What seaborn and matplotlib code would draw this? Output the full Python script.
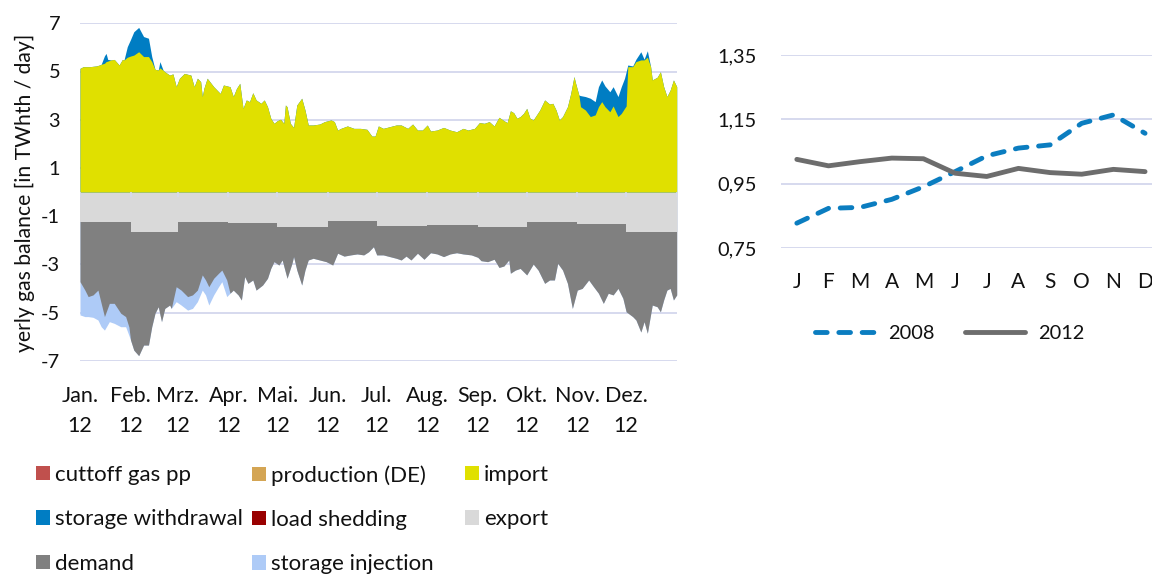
import numpy as np
import pandas as pd
import matplotlib
matplotlib.use("Agg")
import matplotlib.pyplot as plt
import seaborn as sns
from matplotlib.patches import Patch
from matplotlib.lines import Line2D

# ---------------- data ----------------
month_labels = ["Jan.", "Feb.", "Mrz.", "Apr.", "Mai.", "Jun.",
                "Jul.", "Aug.", "Sep.", "Okt.", "Nov.", "Dez."]
year_label = "12"
month_days = [31, 29, 31, 30, 31, 30, 31, 31, 30, 31, 30, 31]
export_monthly = [1.26, 1.65, 1.24, 1.30, 1.44, 1.19, 1.40, 1.37, 1.45, 1.23, 1.31, 1.65]

# supply side (day of year, TWh/day)
supply_days = [0, 2, 6, 10, 12, 13, 15, 16, 17, 19,
               21, 24, 26, 27, 29, 31, 33, 36, 39, 42,
               44, 46, 48, 49, 51, 52, 55, 57, 59, 61,
               64, 68, 70, 72, 74, 75, 76, 78, 82, 84,
               86, 88, 92, 94, 96, 98, 100, 102, 104, 106,
               108, 111, 113, 115, 117, 119, 121, 123, 125, 126,
               127, 129, 131, 133, 136, 138, 140, 143, 147, 150,
               154, 156, 158, 160, 164, 168, 172, 176, 179, 181,
               183, 186, 190, 194, 197, 201, 204, 207, 210, 213,
               215, 219, 223, 227, 231, 235, 238, 242, 245, 248,
               251, 254, 257, 260, 262, 264, 266, 268, 270, 272,
               274, 276, 278, 282, 285, 288, 290, 292, 294, 296,
               299, 301, 303, 304, 306, 307, 310, 313, 316, 318,
               320, 322, 325, 327, 330, 332, 334, 335, 336, 339,
               341, 344, 346, 348, 350, 351, 354, 356, 358, 360,
               362, 364, 366]
import_vals = [5.13, 5.20, 5.20, 5.23, 5.27, 5.30, 5.34, 5.41, 5.43, 5.48,
               5.50, 5.27, 5.50, 5.48, 5.59, 5.64, 5.68, 5.82, 5.62, 5.62,
               5.41, 5.09, 5.06, 5.15, 5.05, 4.99, 4.85, 4.90, 4.37, 4.72,
               4.92, 4.85, 4.37, 4.72, 4.58, 3.96, 4.30, 4.72, 4.37, 4.23,
               4.09, 4.44, 4.37, 3.96, 4.30, 4.51, 3.47, 3.82, 3.75, 4.12,
               3.82, 3.68, 3.82, 3.54, 3.06, 2.85, 2.96, 3.02, 2.85, 3.61,
               3.54, 2.85, 2.68, 3.61, 3.89, 3.40, 2.78, 2.78, 2.82, 2.92,
               2.99, 2.92, 2.57, 2.64, 2.74, 2.64, 2.64, 2.60, 2.32, 2.32,
               2.74, 2.64, 2.71, 2.78, 2.78, 2.64, 2.82, 2.57, 2.57, 2.78,
               2.53, 2.57, 2.68, 2.57, 2.50, 2.64, 2.57, 2.64, 2.88, 2.85,
               2.92, 2.74, 3.10, 2.96, 2.88, 3.37, 3.29, 3.06, 3.13, 3.26,
               3.47, 3.06, 2.99, 3.40, 3.82, 3.65, 3.68, 3.40, 2.99, 3.13,
               3.54, 4.09, 4.79, 4.51, 4.02, 3.54, 3.40, 3.13, 3.20, 3.54,
               3.75, 3.54, 3.33, 3.57, 3.13, 3.26, 3.47, 3.57, 5.20, 5.20,
               5.41, 5.48, 5.48, 5.59, 5.20, 4.65, 4.76, 4.99, 4.37, 3.96,
               4.23, 4.65, 4.37]
withdrawal_vals = [0, 0, 0, 0, 0, 0, 0.31, 0.34, 0.07, 0,
                   0, 0, 0, 0, 0.44, 0.69, 0.97, 1.01, 0.83, 0.76,
                   0.21, 0, 0, 0.26, 0, 0, 0, 0, 0, 0,
                   0, 0, 0, 0, 0, 0, 0, 0, 0, 0,
                   0, 0, 0, 0, 0, 0, 0, 0, 0, 0,
                   0, 0, 0, 0, 0, 0, 0, 0, 0, 0,
                   0, 0, 0, 0, 0, 0, 0, 0, 0, 0,
                   0, 0, 0, 0, 0, 0, 0, 0, 0, 0,
                   0, 0, 0, 0, 0, 0, 0, 0, 0, 0,
                   0, 0, 0, 0, 0, 0, 0, 0, 0, 0,
                   0, 0, 0, 0, 0, 0, 0, 0, 0, 0,
                   0, 0, 0, 0, 0, 0, 0, 0, 0, 0,
                   0, 0, 0, 0, 0, 0.46, 0.56, 0.76, 0.55, 0.83,
                   0.90, 0.86, 0.83, 0.80, 0.83, 1.11, 1.25, 1.42, 0.07, 0.03,
                   0.10, 0.34, 0.03, 0.27, 0, 0, 0, 0, 0, 0,
                   0, 0, 0]

# use side (day of year, TWh/day)
use_days = [0, 3, 5, 8, 11, 13, 15, 18, 21, 25,
            28, 30, 31, 33, 36, 39, 42, 44, 46, 48,
            50, 52, 55, 56, 59, 62, 66, 69, 72, 75,
            77, 79, 82, 85, 87, 90, 92, 94, 97, 99,
            101, 103, 106, 108, 112, 115, 117, 119, 122, 124,
            127, 130, 131, 133, 136, 138, 140, 143, 147, 151,
            155, 158, 162, 166, 170, 174, 177, 180, 182, 186,
            190, 194, 197, 200, 203, 207, 211, 215, 219, 223,
            227, 231, 235, 240, 244, 246, 250, 254, 257, 260,
            263, 264, 267, 270, 274, 278, 281, 285, 288, 291,
            293, 296, 299, 302, 305, 308, 312, 315, 318, 321,
            324, 327, 330, 333, 335, 339, 341, 344, 346, 348,
            351, 354, 356, 358, 360, 362, 364, 366]
demand_vals = [2.46, 2.81, 3.08, 3.01, 2.81, 3.36, 3.91, 3.36, 3.36, 3.77,
               3.91, 4.34, 4.49, 4.91, 5.14, 4.70, 4.70, 3.94, 3.38, 3.11,
               3.73, 3.18, 3.04, 3.18, 2.28, 2.83, 3.10, 3.03, 2.83, 2.20,
               2.41, 2.69, 2.34, 2.13, 2.00, 2.41, 2.90, 2.77, 2.97, 3.18,
               2.21, 2.49, 2.35, 2.77, 2.56, 2.28, 1.87, 1.59, 1.59, 1.38,
               2.14, 1.52, 1.24, 1.80, 2.42, 1.80, 1.38, 1.31, 1.38, 1.45,
               1.84, 1.35, 1.47, 1.42, 1.38, 1.42, 1.29, 1.08, 1.21, 1.21,
               1.28, 1.35, 1.42, 1.26, 1.42, 1.14, 1.39, 1.15, 1.20, 1.31,
               1.20, 1.15, 1.20, 1.24, 1.26, 1.40, 1.44, 1.34, 1.68, 1.62,
               1.37, 1.92, 1.79, 1.72, 2.21, 1.76, 2.01, 2.56, 2.42, 2.42,
               1.73, 2.01, 2.56, 3.60, 2.76, 2.69, 2.34, 2.62, 2.89, 3.31,
               2.89, 2.96, 2.69, 3.10, 3.32, 3.52, 3.66, 4.16, 3.73, 4.21,
               3.04, 3.11, 3.32, 2.83, 2.42, 2.35, 2.83, 2.62]
injection_vals = [1.38, 1.10, 0.83, 0.93, 1.24, 0.97, 0.56, 0.76, 0.83, 0.56,
                  0.42, 0.35, 0, 0, 0, 0, 0, 0, 0, 0,
                  0, 0, 0, 0, 0.62, 0.62, 0.56, 0.56, 0.48, 0.63,
                  0.62, 0.76, 0.69, 0.56, 0.48, 0.69, 0, 0, 0, 0,
                  0, 0, 0, 0, 0, 0, 0, 0, 0, 0,
                  0, 0, 0, 0, 0, 0, 0, 0, 0, 0,
                  0, 0, 0, 0, 0, 0, 0, 0, 0, 0,
                  0, 0, 0, 0, 0, 0, 0, 0, 0, 0,
                  0, 0, 0, 0, 0, 0, 0, 0, 0, 0,
                  0, 0, 0, 0, 0, 0, 0, 0, 0, 0,
                  0, 0, 0, 0, 0, 0, 0, 0, 0, 0,
                  0, 0, 0, 0, 0, 0, 0, 0, 0, 0,
                  0, 0, 0, 0, 0, 0, 0, 0]

legend_names = ["cuttoff gas pp", "production (DE)", "import",
                "storage withdrawal", "load shedding", "export",
                "demand", "storage injection"]

y1_ticks = [7, 5, 3, 1, -1, -3, -5, -7]

# right chart
month_initials = ["J", "F", "M", "A", "M", "J", "J", "A", "S", "O", "N", "D"]
series_2008 = [0.828, 0.874, 0.877, 0.902, 0.941, 0.988, 1.037, 1.061, 1.071, 1.138, 1.164, 1.107]
series_2012 = [1.026, 1.006, 1.019, 1.030, 1.028, 0.983, 0.973, 0.998, 0.985, 0.980, 0.995, 0.988]
y2_ticks = [0.75, 0.95, 1.15, 1.35]
y2_labels = ["0,75", "0,95", "1,15", "1,35"]

# ---------------- style ----------------
C_CUT = "#C0504D"
C_PROD = "#D4A554"
C_IMPORT = "#E0E000"
C_WITH = "#007DC3"
C_LOAD = "#990000"
C_EXPORT = "#D9D9D9"
C_DEMAND = "#808080"
C_INJ = "#AECBF7"
C_2008 = "#0B7DC0"
C_2012 = "#6D6D6D"
GRID = "#D6D9EE"
TXT = "#111111"
legend_colors = [C_CUT, C_PROD, C_IMPORT, C_WITH, C_LOAD, C_EXPORT, C_DEMAND, C_INJ]

sns.set_theme(style="white")
plt.rcParams["font.family"] = ["Lato", "DejaVu Sans"]
plt.rcParams["axes.unicode_minus"] = False
plt.rcParams["text.color"] = TXT
plt.rcParams["xtick.color"] = TXT
plt.rcParams["ytick.color"] = TXT
plt.rcParams["axes.labelcolor"] = TXT
FS_NUM = 14.4   # numeric tick labels
FS_MON = 15.5   # month tick labels
FS_TXT = 16.0   # legend / axis title

W, H = 1152, 575
fig = plt.figure(figsize=(W / 100, H / 100), dpi=100)
ax = fig.add_axes([80 / W, 1 - 360.7 / H, 596.7 / W, 337.4 / H])
ax2 = fig.add_axes([781 / W, 1 - 248.3 / H, (W - 781) / W, 193.3 / H])

# ---------------- left: gas balance ----------------
month_start = np.concatenate([[0], np.cumsum(month_days)[:-1]])
month_edges = np.concatenate([[0], np.cumsum(month_days)])

sd = np.array(supply_days, float)
imp = np.array(import_vals)
wd = np.array(withdrawal_vals)
ud = np.array(use_days, float)
dem = np.array(demand_vals)
inj = np.array(injection_vals)
exp_m = np.array(export_monthly)
exp_at = exp_m[np.searchsorted(month_start, ud, side="right") - 1]

lvl_dem = -(exp_at + dem)
lvl_inj = lvl_dem - inj
top_total = imp + wd

ax.fill_between(ud, 0, lvl_inj, color=C_INJ, lw=0, zorder=2)
ax.fill_between(ud, 0, lvl_dem, color=C_DEMAND, lw=0, zorder=3)
ax.fill_between(month_edges, 0, -np.append(exp_m, exp_m[-1]), step="post",
                color=C_EXPORT, lw=0, zorder=4)
ax.fill_between(sd, 0, top_total, color=C_WITH, lw=0, zorder=5)
ax.fill_between(sd, 0, imp, color=C_IMPORT, lw=0, zorder=6)
ax.vlines(month_edges, -0.2, 0, color=GRID, lw=1.2, zorder=7)

ax.set_xlim(0, 366)
ax.set_ylim(-7, 7)
ax.set_yticks(y1_ticks)
ax.set_yticklabels([str(v) for v in y1_ticks])
ax.yaxis.grid(True, color=GRID, lw=1.4)
ax.xaxis.grid(False)
ax.set_axisbelow(True)
ax.set_xticks(month_start)
ax.set_xticklabels([f"{m}\n{year_label}" for m in month_labels], linespacing=1.6)
ax.tick_params(axis="x", length=0, pad=18.5, labelsize=FS_MON)
ax.tick_params(axis="y", length=0, pad=14.4, labelsize=FS_NUM)
for s in ax.spines.values():
    s.set_visible(False)
ax.set_ylabel("yerly gas balance [in TWhth / day]", fontsize=FS_TXT - 0.8, va="center")
ax.yaxis.set_label_coords(-0.0922, 0.497)

handles = {n: Patch(facecolor=c, edgecolor="none") for n, c in zip(legend_names, legend_colors)}
cols = [["cuttoff gas pp", "storage withdrawal", "demand"],
        ["production (DE)", "load shedding", "storage injection"],
        ["import", "export"]]
col_x = [36, 252, 465]
for names, x in zip(cols, col_x):
    fig.legend([handles[n] for n in names], names, loc="upper left",
               bbox_to_anchor=(x / W, 1 - 465 / H), frameon=False, fontsize=FS_TXT,
               handlelength=0.63, handleheight=0.63, handletextpad=0.23,
               labelspacing=1.10, borderpad=0, borderaxespad=0)

# ---------------- right: line chart ----------------
df = pd.DataFrame({
    "month": list(range(12)) * 2,
    "value": series_2008 + series_2012,
    "year": ["2008"] * 12 + ["2012"] * 12,
})
sns.lineplot(data=df, x="month", y="value", hue="year", style="year",
             palette={"2008": C_2008, "2012": C_2012},
             dashes={"2008": (2.4, 2.4), "2012": ""},
             linewidth=3.5, legend=False, ax=ax2, zorder=3)
for ln in ax2.get_lines():
    ln.set_dash_capstyle("round")
    ln.set_solid_capstyle("round")
    ln.set_solid_joinstyle("round")
    ln.set_dash_joinstyle("round")

ax2.set_xlim(-0.5, 11.22)
ax2.set_ylim(0.75, 1.35)
ax2.set_yticks(y2_ticks)
ax2.set_yticklabels(y2_labels)
ax2.set_xticks(range(12))
ax2.set_xticklabels(month_initials)
ax2.yaxis.grid(True, color=GRID, lw=1.4)
ax2.xaxis.grid(False)
ax2.set_axisbelow(True)
ax2.tick_params(axis="x", length=0, pad=17.0, labelsize=FS_NUM + 0.6)
ax2.tick_params(axis="y", length=0, pad=17.3, labelsize=FS_NUM)
ax2.set_xlabel("")
ax2.set_ylabel("")
for s in ax2.spines.values():
    s.set_visible(False)

lh = [Line2D([], [], color=C_2008, lw=3.5, dashes=(2.4, 2.4), dash_capstyle="round"),
      Line2D([], [], color=C_2012, lw=3.5, solid_capstyle="round")]
fig.legend(lh, ["2008", "2012"], loc="upper left",
           bbox_to_anchor=(814.5 / W, 1 - 325 / H), ncol=2, frameon=False,
           fontsize=FS_NUM, handlelength=3.0, handletextpad=0.68, columnspacing=1.5,
           borderpad=0, borderaxespad=0)

fig.savefig("out.png", dpi=100)
